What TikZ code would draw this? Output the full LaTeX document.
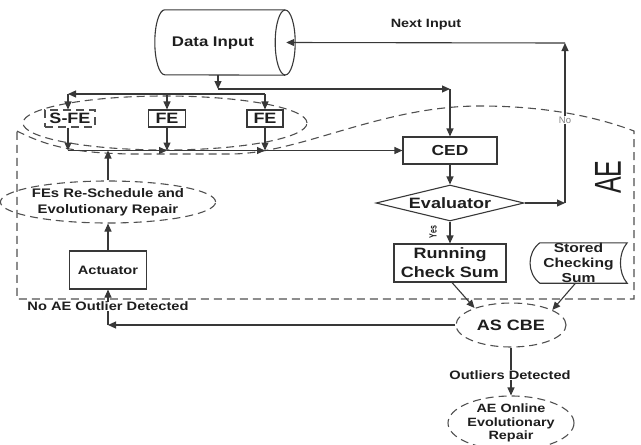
\documentclass[tikz,border=0pt]{standalone}
\usepackage{fontspec}
\setmainfont{Liberation Sans}[FakeStretch=1.2]
\newfontfamily\plainsans{Liberation Sans}
\usepackage{graphicx}
\usetikzlibrary{shapes.geometric,arrows.meta,calc}

\definecolor{ink}{HTML}{383838}
\definecolor{dashink}{HTML}{505050}
\definecolor{txt}{HTML}{1E1E1E}

\tikzset{
  line/.style={draw=ink, line width=1.1pt},
  arr/.style={line, -{Triangle[length=8pt,width=7pt]}},
  dashline/.style={draw=dashink, line width=1.1pt, dash pattern=on 8pt off 5pt},
  tx/.style 2 args={font=\fontsize{#1}{#2}\selectfont\bfseries, text=txt},
  sbox/.style={line, rectangle, inner sep=0pt},
  dbox/.style={dashline, rectangle, inner sep=0pt},
  dell/.style={dashline, ellipse, inner sep=0pt},
  lbl/.style={fill=white, inner sep=0.5pt},
}

\begin{document}
\begin{tikzpicture}[x=1pt,y=-1pt]
\useasboundingbox (0,0) rectangle (641,445);

% ---- AE boundary (wavy top edge) ----
\draw[dashline] (17,131) .. controls (50,148) and (80,153) .. (130,154)
  -- (230,154) .. controls (300,154) and (380,106) .. (480,106)
  .. controls (560,106) and (610,122) .. (634,131)
  -- (634,299) -- (17,299) -- cycle;
\node at (608,177) {\rotatebox{90}{\scalebox{1}[1.5]{\plainsans\fontsize{25}{25}\selectfont\color{txt}AE}}};

% ---- data input drum ----
\node[minimum width=120pt, minimum height=65pt, inner sep=0pt] (din) at (225,42.5) {};
\draw[line] (din.north east) -- (din.north west)
  arc[start angle=270, end angle=90, x radius=10, y radius=32.5] -- (din.south east);
\draw[line] (din.east) ellipse[x radius=10, y radius=32.5];
\node[tx={14}{16}] (dintxt) at (213,43) {Data Input};
\node[tx={12}{14}] (nxt) at (426,25) {Next Input};

% ---- feature extractors ----
\node[dell, minimum width=284pt, minimum height=54pt] (fegroup) at (165,123) {};
\node[dbox, tx={15}{17}, minimum width=50pt, minimum height=17pt] (sfe) at (70,118.5) {S-FE};
\node[sbox, tx={15}{17}, minimum width=37pt, minimum height=17pt] (fe1) at (167,118.5) {FE};
\node[sbox, tx={15}{17}, minimum width=36pt, minimum height=17pt] (fe3) at (265,118.5) {FE};

% ---- evaluation chain ----
\node[sbox, tx={14.5}{17}, minimum width=94pt, minimum height=27pt] (ced) at (450,150.5) {CED};
\node[diamond, line, aspect=4.1, inner sep=0pt, minimum width=148pt, minimum height=36pt, tx={15}{17}] (eval) at (450,203) {Evaluator};
\node[sbox, tx={15}{19}, align=center, minimum width=112pt, minimum height=38pt] (rcs) at (450,263) {Running\\Check Sum};
\node[tx={13}{15}, align=center, minimum width=97pt, minimum height=40pt, inner sep=0pt] (ssum) at (578.5,263) {Stored\\Checking\\Sum};
\draw[line] ([xshift=10pt]ssum.north west) -- (ssum.north east)
  .. controls +(-9,10) and +(-9,-10) .. (ssum.south east)
  -- ([xshift=10pt]ssum.south west)
  .. controls +(-13,-10) and +(-13,10) .. ([xshift=10pt]ssum.north west);
\node[dell, tx={15}{17}, minimum width=110pt, minimum height=44pt] (ascbe) at (511,325) {AS CBE};
\node[dell, tx={12}{13.5}, align=center, minimum width=126pt, minimum height=44pt] (aer) at (511,423) {AE Online\\Evolutionary\\Repair};

% ---- repair loop ----
\node[dell, tx={12.4}{16}, align=center, minimum width=174pt, minimum height=42pt] (fer) at (108,202) {FEs Re-Schedule and\\Evolutionary Repair};
\node[sbox, tx={12.2}{14}, minimum width=77pt, minimum height=38pt] (act) at (108,270) {Actuator};

% ---- junction points ----
\coordinate (split) at (218,89);
\coordinate (cedin) at (450,89);
\coordinate (d1) at (68,94);
\coordinate (d2) at (167,94);
\coordinate (d3) at (265,94);
\coordinate (c1) at (68,150.5);
\coordinate (c2) at (167,150.5);
\coordinate (c3) at (265,150.5);
\coordinate (c0) at (108,150.5);
\coordinate (nocorner) at (565,203);
\coordinate (nitop) at (565,43);
\coordinate (back) at (108,325);

% ---- connectors ----
\draw[arr] ([xshift=-7pt]din.south) -- (split);
\draw[arr] (split) -- (cedin);
\draw[arr] (cedin) -- (ced.north);
\draw[arr] (d3) -- (d1);
\draw[arr] (d1) -- (c1 |- sfe.north);
\draw[arr] (d2) -- (fe1.north);
\draw[arr] (d3) -- (fe3.north);
\draw[arr] (c1 |- sfe.south) -- (c1);
\draw[arr] (fe1.south) -- (c2);
\draw[arr] (fe3.south) -- (c3);
\draw[arr] (c1) -- (c2);
\draw[arr] (c2) -- (c3);
\draw[arr] (c3) -- (ced.west);
\draw[arr] (fer.north) -- (c0);
\draw[arr] (act.north) -- (fer.south);
\draw[arr] (ced.south) -- (eval.north);
\draw[arr] (eval.south) -- (rcs.north);
\draw[arr] (eval.east) -- (nocorner);
\draw[arr] (nocorner) -- (nitop);
\draw[arr] (nitop) -- ([xshift=1pt]din.east);
\draw[arr] ([xshift=2pt]rcs.south) -- (ascbe.155);
\draw[arr] ([xshift=-3pt]ssum.south) -- (ascbe.20);
\draw[arr] (ascbe.west) -- (back);
\draw[arr] (back) -- (act.south);
\draw[arr] (ascbe.south) -- (aer.north);

% ---- connector labels ----
\node[lbl, font=\plainsans\fontsize{9.5}{10}\selectfont, text=gray] (nolbl) at (565,120) {No};
\node[tx={12.2}{14}, lbl] (noae) at (108,306.5) {No AE Outlier Detected};
\node[tx={12.2}{14}, lbl] (outl) at (510,375) {Outliers Detected};
\node (yes) at (433,232) {\rotatebox{90}{\scalebox{1}[1.5]{\plainsans\bfseries\fontsize{7}{7}\selectfont\color{txt}Yes}}};
\end{tikzpicture}
\end{document}
